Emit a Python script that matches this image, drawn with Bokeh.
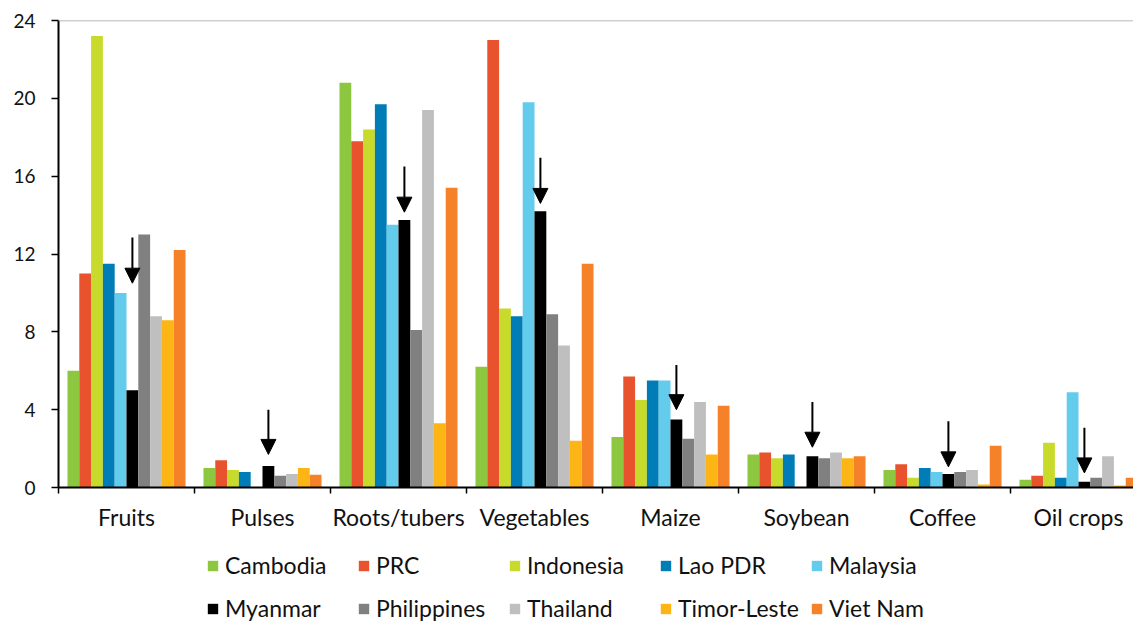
from bokeh.plotting import figure
from bokeh.layouts import column
from bokeh.models import (Range1d, FixedTicker, Span, Arrow, NormalHead,
                          ColumnDataSource, Legend, LegendItem)
from bokeh.embed import file_html
from bokeh.resources import INLINE

crops = ["Fruits", "Pulses", "Roots/tubers", "Vegetables", "Maize", "Soybean", "Coffee", "Oil crops"]
countries = ["Cambodia", "PRC", "Indonesia", "Lao PDR", "Malaysia",
             "Myanmar", "Philippines", "Thailand", "Timor-Leste", "Viet Nam"]
cambodia = [6.0, 1.0, 20.8, 6.2, 2.6, 1.7, 0.9, 0.4]
prc = [11.0, 1.4, 17.8, 23.0, 5.7, 1.8, 1.2, 0.6]
indonesia = [23.2, 0.9, 18.4, 9.2, 4.5, 1.5, 0.5, 2.3]
lao_pdr = [11.5, 0.8, 19.7, 8.8, 5.5, 1.7, 1.0, 0.5]
malaysia = [10.0, 0.0, 13.5, 19.8, 5.5, 0.0, 0.8, 4.9]
myanmar = [5.0, 1.1, 13.75, 14.2, 3.5, 1.6, 0.7, 0.3]
philippines = [13.0, 0.6, 8.1, 8.9, 2.5, 1.5, 0.8, 0.5]
thailand = [8.8, 0.7, 19.4, 7.3, 4.4, 1.8, 0.9, 1.6]
timor_leste = [8.6, 1.0, 3.3, 2.4, 1.7, 1.5, 0.15, 0.1]
viet_nam = [12.2, 0.65, 15.4, 11.5, 4.2, 1.6, 2.15, 0.5]
# arrows pointing at Myanmar bars
arrow_top = [12.85, 4.0, 16.5, 16.95, 6.3, 4.4, 3.4, 3.07]
arrow_tip = [10.5, 1.7, 14.15, 14.6, 4.0, 2.07, 1.06, 0.75]
y_ticks = [0, 4, 8, 12, 16, 20, 24]

series = [cambodia, prc, indonesia, lao_pdr, malaysia, myanmar,
          philippines, thailand, timor_leste, viet_nam]
colors = ["#8DC63F", "#E8532E", "#C8DA2B", "#007DB7", "#63CBEC",
          "#000000", "#808080", "#BFBFBF", "#FDB515", "#F58229"]

FONT = "Lato"
bar_w = 0.0868

p = figure(width=1133, height=540, output_backend="svg", toolbar_location=None,
           x_range=Range1d(0, 1075 / 136), y_range=Range1d(0, 24),
           min_border_left=58, min_border_right=0, min_border_top=20,
           min_border_bottom=53)
p.outline_line_color = None
p.xgrid.visible = False
p.ygrid.visible = False
p.background_fill_color = "white"
p.border_fill_color = "white"

n = len(countries)
for j, (name, vals, c) in enumerate(zip(countries, series, colors)):
    xs = [i + 0.5 + (j - (n - 1) / 2) * bar_w for i in range(len(crops))]
    src = ColumnDataSource(dict(x=xs, top=vals))
    p.vbar(x="x", top="top", bottom=0, width=bar_w, source=src,
           fill_color=c, line_color=None)

# top border line
p.add_layout(Span(location=24, dimension="width", line_color="#A0A0A0", line_width=1.5))

# arrows
mj = countries.index("Myanmar")
ax = [i + 0.5 + (mj - (n - 1) / 2) * bar_w for i in range(len(crops))]
asrc = ColumnDataSource(dict(x0=ax, y0=arrow_top, x1=ax, y1=arrow_tip))
p.add_layout(Arrow(x_start="x0", y_start="y0", x_end="x1", y_end="y1", source=asrc,
                   line_color="black", line_width=2,
                   end=NormalHead(size=15, fill_color="black", line_color="black")))

# axes
xa = p.xaxis[0]
xa.ticker = FixedTicker(ticks=[i + 0.5 for i in range(len(crops))],
                        minor_ticks=list(range(len(crops) + 1)))
xa.major_label_overrides = {i + 0.5: c for i, c in enumerate(crops)}
xa.major_tick_out = 0
xa.major_tick_in = 0
xa.minor_tick_out = 6
xa.minor_tick_in = 0
xa.minor_tick_line_color = "black"
xa.minor_tick_line_width = 1.5
xa.axis_line_color = "black"
xa.axis_line_width = 2
xa.major_label_standoff = 9
xa.major_label_text_font = FONT
xa.major_label_text_font_size = "23px"
xa.major_label_text_color = "#111111"

ya = p.yaxis[0]
ya.ticker = FixedTicker(ticks=y_ticks)
ya.major_tick_out = 7
ya.major_tick_in = 0
ya.minor_tick_out = 0
ya.minor_tick_in = 0
ya.major_tick_line_color = "black"
ya.major_tick_line_width = 1.5
ya.axis_line_color = "black"
ya.axis_line_width = 2
ya.major_label_standoff = 16
ya.major_label_text_font = FONT
ya.major_label_text_font_size = "19px"
ya.major_label_text_color = "#111111"

# legend figure (frame covers the whole figure)
lf = figure(width=1133, height=83, output_backend="svg", toolbar_location=None,
            x_range=Range1d(0, 1), y_range=Range1d(0, 1),
            min_border_left=0, min_border_right=0, min_border_top=0, min_border_bottom=0)
lf.axis.visible = False
lf.xgrid.visible = False
lf.ygrid.visible = False
lf.outline_line_color = None

items = []
for name, c in zip(countries, colors):
    # zero-height bar outside the visible range: only feeds the legend glyph
    r = lf.vbar(x=[5], top=[0], width=0.1, fill_color=c, line_color=None)
    items.append(LegendItem(label=name, renderers=[r]))

common = dict(orientation="horizontal", glyph_width=13, glyph_height=13,
              label_standoff=6, label_width=128, label_height=20, spacing=4,
              padding=0, margin=0, border_line_color=None, background_fill_alpha=0,
              label_text_font=FONT, label_text_font_size="23px",
              label_text_color="#111111")
lf.add_layout(Legend(items=items[:5], location=(148, 44), **common), "center")
lf.add_layout(Legend(items=items[5:], location=(148, 1), **common), "center")

open("out.html", "w").write(file_html(column(p, lf, spacing=0), INLINE))
